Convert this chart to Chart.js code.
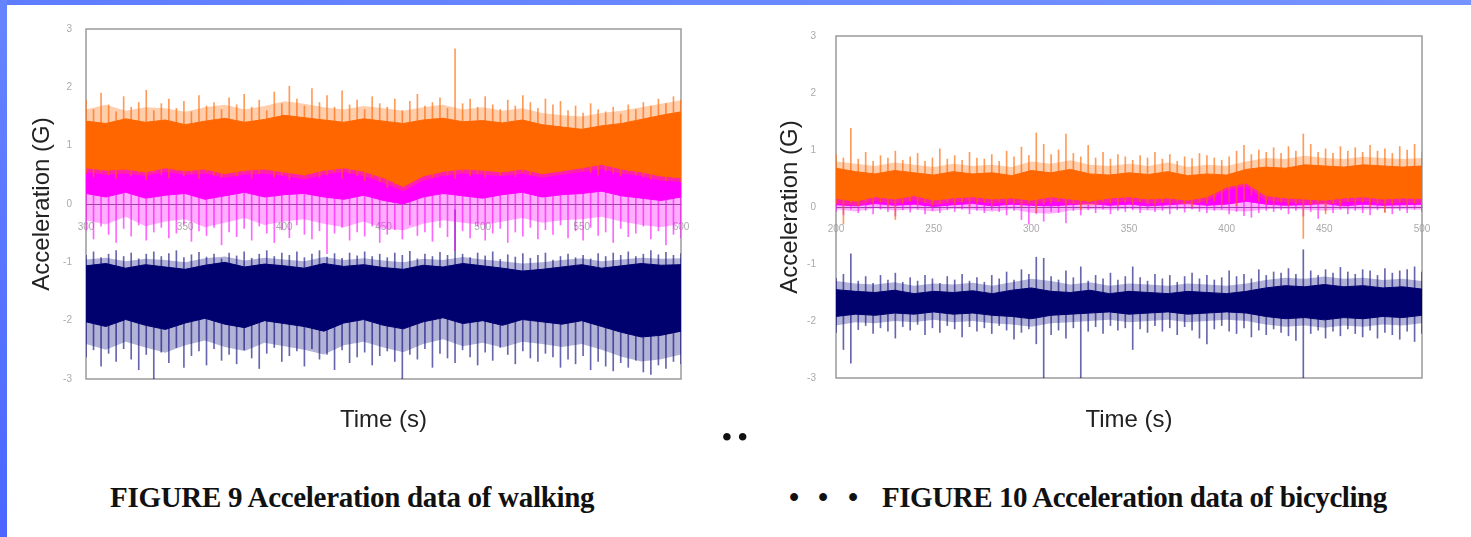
<!DOCTYPE html>
<html>
<head>
<meta charset="utf-8">
<script src="https://cdn.jsdelivr.net/npm/chart.js@4.4.1/dist/chart.umd.min.js"></script>
<style>
  html, body { margin: 0; padding: 0; }
  body { width: 1471px; height: 537px; position: relative; overflow: hidden; background: #fff; }
  .edgeTop { position: absolute; left: 0; top: 0; width: 1471px; height: 5px; background: linear-gradient(90deg, #5f7cff, #7594ff); }
  .edgeLeft { position: absolute; left: 0; top: 0; width: 7px; height: 537px; background: linear-gradient(180deg, #6585ff, #4a66ff); }
  canvas { position: absolute; top: 0; }
  #walk { left: 0; }
  #bike { left: 740px; }
  .cap { position: absolute; top: 481px; font-family: "Liberation Serif", "Times New Roman", serif; font-weight: bold; font-size: 29px; color: #111; white-space: nowrap; letter-spacing: -0.3px; }
  #cap9 { left: 110px; }
  #cap10 { left: 882px; letter-spacing: -0.45px; }
  .b1 { left: 789px; } .b2 { left: 818px; } .b3 { left: 848px; }
  #dots { position: absolute; left: 722px; top: 421px; font-family: "Liberation Serif", serif; font-weight: bold; font-size: 28px; color: #111; letter-spacing: 6px; }
</style>
</head>
<body>
<div class="edgeTop"></div>
<div class="edgeLeft"></div>
<canvas id="walk" width="740" height="460"></canvas>
<canvas id="bike" width="731" height="460"></canvas>
<div id="dots">••</div>
<div class="cap" id="cap9">FIGURE 9 Acceleration data of walking</div>
<div class="cap b1">•</div><div class="cap b2">•</div><div class="cap b3">•</div>
<div class="cap" id="cap10">FIGURE 10 Acceleration data of bicycling</div>
<script>
// ===== FIGURE 9: walking, t = 300..600 s =====
// band edges every 10 s: solid core and lighter fringe
var walkOrangeTop  = [1.42,1.38,1.46,1.40,1.44,1.36,1.42,1.47,1.40,1.45,1.52,1.48,1.44,1.40,1.46,1.42,1.38,1.44,1.47,1.41,1.43,1.39,1.44,1.36,1.32,1.28,1.34,1.38,1.45,1.52,1.58];
var walkOrangeBot  = [0.62,0.58,0.60,0.55,0.62,0.57,0.60,0.52,0.58,0.60,0.55,0.50,0.58,0.62,0.56,0.45,0.30,0.48,0.56,0.60,0.58,0.55,0.60,0.52,0.57,0.62,0.68,0.60,0.55,0.48,0.45];
var walkOrangeHiTop = [1.62,1.70,1.60,1.66,1.64,1.58,1.66,1.70,1.62,1.68,1.76,1.72,1.66,1.62,1.68,1.64,1.60,1.66,1.70,1.62,1.66,1.60,1.64,1.56,1.52,1.50,1.56,1.60,1.66,1.72,1.78];
var walkOrangeHiBot = [0.55,0.50,0.52,0.48,0.55,0.50,0.52,0.45,0.50,0.52,0.48,0.42,0.50,0.55,0.48,0.36,0.22,0.40,0.48,0.52,0.50,0.48,0.52,0.45,0.50,0.55,0.60,0.52,0.48,0.40,0.38];
var walkMagTop  = [0.65,0.62,0.66,0.60,0.64,0.63,0.66,0.60,0.64,0.62,0.65,0.60,0.64,0.66,0.60,0.55,0.40,0.55,0.62,0.65,0.63,0.60,0.64,0.62,0.66,0.68,0.72,0.66,0.62,0.58,0.55];
var walkMagBot  = [0.18,0.12,0.20,0.10,0.15,0.18,0.08,0.14,0.20,0.12,0.16,0.18,0.12,0.08,0.15,0.06,0.00,0.12,0.18,0.14,0.10,0.16,0.20,0.12,0.16,0.18,0.22,0.14,0.10,0.06,0.12];
var walkMagHiBot = [-0.28,-0.35,-0.22,-0.38,-0.30,-0.26,-0.40,-0.32,-0.24,-0.36,-0.30,-0.26,-0.34,-0.40,-0.30,-0.42,-0.45,-0.34,-0.28,-0.32,-0.36,-0.30,-0.24,-0.32,-0.28,-0.26,-0.22,-0.30,-0.36,-0.40,-0.34];
var walkNavyTop = [-1.06,-1.02,-1.10,-1.04,-1.08,-1.12,-1.05,-1.00,-1.08,-1.03,-1.06,-1.10,-1.02,-1.07,-1.04,-1.09,-1.12,-1.05,-1.08,-1.02,-1.06,-1.10,-1.15,-1.12,-1.08,-1.04,-1.10,-1.06,-1.02,-1.05,-1.04];
var walkNavyBot = [-2.02,-2.10,-1.98,-2.08,-2.15,-2.04,-1.96,-2.06,-2.12,-2.00,-2.05,-2.10,-2.18,-2.04,-1.98,-2.08,-2.14,-2.02,-1.95,-2.05,-2.00,-2.08,-1.98,-2.02,-2.06,-2.00,-2.10,-2.20,-2.28,-2.25,-2.18];
var walkNavyHiTop = [-0.95,-0.92,-0.98,-0.94,-0.96,-1.00,-0.93,-0.90,-0.97,-0.92,-0.95,-0.98,-0.91,-0.96,-0.93,-0.97,-1.00,-0.94,-0.96,-0.91,-0.95,-0.98,-1.02,-1.00,-0.96,-0.93,-0.98,-0.95,-0.92,-0.94,-0.93];
var walkNavyHiBot = [-2.40,-2.50,-2.36,-2.46,-2.55,-2.42,-2.34,-2.45,-2.52,-2.38,-2.44,-2.50,-2.58,-2.42,-2.36,-2.46,-2.54,-2.40,-2.32,-2.44,-2.38,-2.46,-2.36,-2.40,-2.45,-2.40,-2.50,-2.62,-2.70,-2.66,-2.58];
// single spikes (max / min), 80 across the span
var walkOrangePeaks = [1.78,1.62,1.90,1.70,1.58,1.84,1.66,1.74,1.95,1.60, 1.72,1.80,1.64,1.76,1.58,1.86,1.68,1.74,1.62,1.82,
  1.70,1.88,1.66,1.78,1.60,1.92,1.72,2.02,1.80,1.68, 1.98,1.74,1.86,1.66,1.94,1.70,1.78,1.62,1.84,1.72,
  1.66,1.80,1.60,1.76,1.88,1.68,1.74,1.82,1.64,2.66, 1.72,1.80,1.66,1.84,1.70,1.62,1.78,1.68,1.86,1.74,
  1.64,1.80,1.70,1.76,1.60,1.68,1.56,1.72,1.62,1.58, 1.66,1.54,1.70,1.62,1.74,1.68,1.80,1.72,1.84,1.78];
var walkOrangeDips = [0.52,0.46,0.56,0.50,0.44,0.58,0.48,0.54,0.42,0.55, 0.50,0.45,0.57,0.48,0.53,0.44,0.56,0.50,0.46,0.54,
  0.48,0.55,0.44,0.52,0.58,0.46,0.50,0.42,0.55,0.48, 0.53,0.45,0.50,0.56,0.44,0.52,0.48,0.40,0.46,0.38,
  0.28,0.34,0.45,0.52,0.48,0.55,0.46,0.53,0.50,0.44, 0.56,0.48,0.52,0.45,0.58,0.50,0.54,0.47,0.55,0.50,
  0.58,0.52,0.60,0.55,0.62,0.66,0.58,0.54,0.50,0.56, 0.52,0.48,0.55,0.50,0.46,0.42,0.48,0.40,0.44,0.38];
var walkMagPeaks = [0.62,0.66,0.60,0.64,0.58,0.66,0.62,0.60,0.65,0.61, 0.63,0.59,0.66,0.60,0.64,0.62,0.58,0.65,0.61,0.63,
  0.60,0.66,0.62,0.58,0.64,0.61,0.65,0.60,0.63,0.55, 0.60,0.64,0.62,0.58,0.65,0.61,0.63,0.60,0.52,0.45,
  0.40,0.50,0.62,0.66,0.62,0.58,0.64,0.61,0.65,0.60, 0.68,0.62,0.64,0.61,0.66,0.60,0.64,0.62,0.66,0.63,
  0.64,0.70,0.72,0.66,0.72,0.74,0.66,0.62,0.60,0.64, 0.62,0.58,0.60,0.56,0.58,0.55,0.58,0.56,0.55,0.58];
var walkMagDips = [-0.45,-0.60,-0.38,-0.52,-0.66,-0.42,-0.55,-0.36,-0.62,-0.48, -0.40,-0.58,-0.50,-0.35,-0.64,-0.46,-0.54,-0.40,-0.70,-0.48,
  -0.56,-0.42,-0.62,-0.38,-0.50,-0.66,-0.44,-0.58,-0.36,-0.52, -0.60,-0.46,-0.85,-0.50,-0.40,-0.62,-0.48,-0.55,-0.38,-0.66,
  -0.52,-0.44,-0.60,-0.36,-0.54,-0.48,-0.64,-0.40,-0.56,-0.80, -0.46,-0.58,-0.38,-0.62,-0.50,-0.42,-0.66,-0.48,-0.55,-0.40,
  -0.60,-0.44,-0.52,-0.36,-0.58,-0.46,-0.62,-0.40,-0.54,-0.48, -0.66,-0.42,-0.56,-0.50,-0.38,-0.60,-0.46,-0.70,-0.52,-0.58];
var walkNavyPeaks = [-0.88,-0.82,-0.92,-0.86,-0.80,-0.90,-0.84,-0.94,-0.86,-0.82, -0.90,-0.85,-0.80,-0.92,-0.87,-0.83,-0.91,-0.86,-0.94,-0.84,
  -0.89,-0.82,-0.93,-0.86,-0.80,-0.90,-0.84,-0.88,-0.82,-0.92, -0.86,-0.80,-0.91,-0.85,-0.93,-0.84,-0.89,-0.82,-0.90,-0.86,
  -0.92,-0.84,-0.88,-0.81,-0.94,-0.86,-0.90,-0.83,-0.88,-0.10, -0.86,-0.92,-0.84,-0.89,-0.82,-0.95,-0.87,-0.91,-0.85,-0.93,
  -0.88,-0.84,-0.96,-0.90,-0.86,-0.92,-0.88,-0.94,-0.85,-0.90, -0.84,-0.88,-0.82,-0.90,-0.86,-0.80,-0.87,-0.83,-0.88,-0.85];
var walkNavyDips = [-2.62,-2.50,-2.78,-2.56,-2.70,-2.48,-2.66,-2.84,-2.58,-3.00, -2.54,-2.72,-2.46,-2.80,-2.60,-2.52,-2.76,-2.48,-2.68,-2.58,
  -2.74,-2.50,-2.64,-2.82,-2.56,-2.46,-2.70,-2.60,-2.52,-2.78, -2.48,-2.66,-2.58,-2.84,-2.50,-2.72,-2.62,-2.54,-2.76,-2.60,
  -2.52,-2.70,-3.00,-2.58,-2.66,-2.48,-2.80,-2.56,-2.64,-2.72, -2.50,-2.62,-2.76,-2.54,-2.68,-2.46,-2.58,-2.74,-2.52,-2.64,
  -2.70,-2.56,-2.62,-2.80,-2.66,-2.74,-2.60,-2.84,-2.70,-2.78, -2.86,-2.72,-2.80,-2.68,-2.88,-2.92,-2.76,-2.82,-2.70,-2.74];

// ===== FIGURE 10: bicycling, t = 200..500 s =====
var bikeOrangeTop  = [0.68,0.62,0.58,0.64,0.60,0.56,0.62,0.58,0.60,0.55,0.64,0.60,0.66,0.58,0.56,0.60,0.57,0.62,0.55,0.58,0.56,0.66,0.70,0.68,0.74,0.72,0.70,0.74,0.72,0.70,0.72];
var bikeOrangeBot  = [0.15,0.10,0.18,0.14,0.20,0.12,0.16,0.18,0.14,0.16,0.12,0.18,0.14,0.10,0.16,0.18,0.14,0.16,0.12,0.18,0.35,0.42,0.20,0.16,0.14,0.12,0.16,0.18,0.14,0.16,0.15];
var bikeOrangeHiTop = [0.80,0.76,0.72,0.78,0.74,0.70,0.76,0.72,0.74,0.70,0.80,0.76,0.82,0.74,0.72,0.76,0.72,0.78,0.70,0.74,0.72,0.80,0.86,0.84,0.90,0.86,0.84,0.88,0.86,0.84,0.86];
var bikeOrangeHiBot = [0.06,0.02,0.10,0.06,0.12,0.04,0.08,0.10,0.06,0.08,0.04,0.10,0.06,0.02,0.08,0.10,0.06,0.08,0.04,0.10,0.30,0.36,0.12,0.08,0.06,0.04,0.08,0.10,0.06,0.08,0.07];
var bikeMagTop  = [0.30,0.32,0.28,0.31,0.30,0.33,0.29,0.31,0.30,0.32,0.30,0.28,0.31,0.33,0.30,0.29,0.31,0.30,0.32,0.30,0.40,0.44,0.32,0.30,0.31,0.29,0.32,0.30,0.31,0.30,0.32];
var bikeMagBot  = [0.04,0.02,0.06,0.03,0.05,0.01,0.04,0.06,0.02,0.05,0.03,0.02,0.04,0.06,0.03,0.05,0.02,0.04,0.06,0.03,0.05,0.10,0.05,0.03,0.04,0.06,0.02,0.05,0.03,0.04,0.05];
var bikeMagHiBot = [-0.04,-0.08,-0.02,-0.06,-0.04,-0.08,-0.03,-0.05,-0.08,-0.04,-0.10,-0.12,-0.06,-0.04,-0.05,-0.03,-0.06,-0.04,-0.03,-0.05,-0.06,-0.08,-0.04,-0.03,-0.05,-0.06,-0.04,-0.05,-0.03,-0.04,-0.05];
var bikeNavyTop = [-1.45,-1.48,-1.50,-1.46,-1.52,-1.48,-1.50,-1.47,-1.52,-1.46,-1.42,-1.48,-1.50,-1.46,-1.52,-1.48,-1.50,-1.52,-1.48,-1.50,-1.52,-1.48,-1.42,-1.38,-1.40,-1.36,-1.40,-1.38,-1.42,-1.40,-1.44];
var bikeNavyBot = [-1.92,-1.88,-1.90,-1.86,-1.88,-1.84,-1.88,-1.86,-1.90,-1.92,-1.96,-1.90,-1.88,-1.86,-1.84,-1.88,-1.86,-1.84,-1.88,-1.86,-1.84,-1.86,-1.92,-1.96,-1.94,-1.98,-1.94,-1.96,-1.92,-1.94,-1.90];
var bikeNavyHiTop = [-1.30,-1.34,-1.36,-1.32,-1.38,-1.34,-1.36,-1.33,-1.38,-1.32,-1.26,-1.30,-1.36,-1.32,-1.38,-1.34,-1.36,-1.38,-1.34,-1.36,-1.38,-1.34,-1.28,-1.24,-1.26,-1.22,-1.26,-1.24,-1.28,-1.26,-1.30];
var bikeNavyHiBot = [-2.08,-2.02,-2.04,-2.00,-2.02,-1.98,-2.02,-2.00,-2.04,-2.06,-2.10,-2.04,-2.02,-2.00,-1.98,-2.02,-2.00,-1.98,-2.02,-2.00,-1.98,-2.00,-2.06,-2.10,-2.08,-2.12,-2.08,-2.10,-2.06,-2.08,-2.04];
var bikeOrangePeaks = [0.92,0.86,1.38,0.84,0.96,0.80,0.90,0.86,0.98,0.82, 0.88,0.94,0.80,0.86,1.02,0.84,0.90,0.82,0.96,0.86,
  0.84,0.92,0.80,0.98,0.88,1.05,0.90,1.30,1.10,0.92, 1.00,1.28,0.94,0.88,1.08,0.86,0.96,0.84,0.92,0.88,
  0.82,0.90,0.86,0.96,0.84,0.92,0.80,0.88,0.85,0.94, 0.90,0.86,0.82,0.88,0.98,1.08,0.92,1.00,0.96,1.04,
  0.94,1.06,0.98,1.28,1.10,0.96,1.02,0.94,1.06,0.98, 1.04,0.96,1.08,0.98,1.02,0.94,1.06,1.00,1.10,0.96];
var bikeOrangeDips = [0.06,-0.30,0.08,0.02,0.10,0.04,0.08,0.00,-0.22,0.06, 0.10,0.04,0.08,0.02,0.06,0.10,0.04,0.08,0.00,0.06,
  0.08,0.02,0.10,0.04,0.06,0.00,0.08,-0.10,0.04,0.06, 0.10,0.02,0.06,-0.05,0.08,0.04,0.10,0.06,0.02,0.08,
  0.04,0.10,0.06,0.02,0.08,0.04,0.10,0.06,0.00,0.08, 0.06,0.10,0.04,0.08,0.02,0.12,0.20,0.10,0.06,0.04,
  0.08,0.02,0.06,-0.55,0.04,0.08,-0.12,0.06,0.02,0.10, 0.04,0.08,0.00,0.06,-0.10,0.04,0.08,0.02,0.06,0.04];
var bikeMagPeaks = [0.34,0.30,0.36,0.32,0.35,0.31,0.33,0.36,0.30,0.34, 0.32,0.35,0.31,0.34,0.30,0.36,0.32,0.33,0.35,0.31,
  0.34,0.30,0.36,0.32,0.35,0.31,0.33,0.36,0.30,0.34, 0.32,0.35,0.31,0.34,0.30,0.36,0.32,0.33,0.35,0.31,
  0.34,0.30,0.36,0.32,0.35,0.31,0.33,0.36,0.30,0.34, 0.32,0.44,0.46,0.42,0.35,0.31,0.33,0.36,0.30,0.34,
  0.32,0.35,0.31,0.34,0.30,0.36,0.32,0.33,0.35,0.31, 0.34,0.30,0.36,0.32,0.35,0.31,0.33,0.36,0.30,0.34];
var bikeMagDips = [-0.08,-0.14,-0.04,-0.10,-0.06,-0.12,-0.04,-0.08,-0.16,-0.05, -0.09,-0.04,-0.12,-0.06,-0.10,-0.05,-0.08,-0.04,-0.12,-0.06,
  -0.10,-0.05,-0.08,-0.14,-0.06,-0.22,-0.30,-0.12,-0.25,-0.08, -0.10,-0.28,-0.06,-0.14,-0.05,-0.10,-0.04,-0.12,-0.06,-0.08,
  -0.05,-0.10,-0.04,-0.08,-0.06,-0.12,-0.05,-0.09,-0.04,-0.08, -0.10,-0.06,-0.04,-0.12,-0.08,-0.15,-0.18,-0.10,-0.06,-0.08,
  -0.05,-0.12,-0.06,-0.16,-0.08,-0.20,-0.06,-0.10,-0.04,-0.12, -0.06,-0.10,-0.14,-0.05,-0.08,-0.12,-0.06,-0.10,-0.04,-0.08];
var bikeNavyPeaks = [-1.25,-1.18,-0.82,-1.30,-1.22,-1.34,-1.20,-1.28,-1.16,-1.32, -1.24,-1.30,-1.20,-1.26,-1.34,-1.22,-1.28,-1.18,-1.30,-1.24,
  -1.32,-1.20,-1.26,-1.14,-1.28,-1.10,-1.18,-0.88,-0.90,-1.22, -1.28,-1.12,-1.24,-1.05,-1.30,-1.20,-1.26,-1.16,-1.28,-1.22,
  -1.05,-1.24,-1.30,-1.18,-1.26,-1.20,-1.32,-1.22,-1.16,-1.26, -1.20,-1.28,-1.24,-1.12,-1.22,-1.18,-1.26,-1.10,-1.20,-1.14,
  -1.16,-1.08,-1.18,-0.75,-1.12,-1.20,-1.10,-1.16,-1.06,-1.14, -1.18,-1.10,-1.12,-1.20,-1.08,-1.16,-1.12,-1.10,-1.05,-1.14];
var bikeNavyDips = [-2.20,-2.50,-2.74,-2.15,-2.08,-2.22,-2.12,-2.18,-2.30,-2.10, -2.16,-2.06,-2.24,-2.12,-2.20,-2.08,-2.14,-2.28,-2.10,-2.18,
  -2.12,-2.22,-2.08,-2.16,-2.32,-2.20,-2.14,-2.40,-3.00,-2.24, -2.16,-2.30,-2.12,-3.00,-2.18,-2.10,-2.22,-2.08,-2.16,-2.12,
  -2.50,-2.14,-2.20,-2.08,-2.18,-2.12,-2.24,-2.10,-2.16,-2.30, -2.40,-2.14,-2.08,-2.18,-2.22,-2.12,-2.28,-2.16,-2.24,-2.14,
  -2.20,-2.26,-2.34,-3.00,-2.22,-2.16,-2.30,-2.18,-2.26,-2.14, -2.22,-2.28,-2.16,-2.30,-2.20,-2.24,-2.32,-2.18,-2.36,-2.22];

var yTicks = [-3, -2, -1, 0, 1, 2, 3];
var COLORS = {
  orange:  {solid: '#ff6600', fringe: 'rgba(255,102,0,0.32)', spike: 'rgba(255,102,0,0.65)'},
  magenta: {solid: '#ff00ff', fringe: 'rgba(255,0,255,0.32)', spike: 'rgba(255,0,255,0.6)'},
  navy:    {solid: '#00006e', fringe: 'rgba(0,0,120,0.3)',   spike: 'rgba(0,0,120,0.6)'}
};

Chart.defaults.font.family = '"Liberation Sans", Arial, sans-serif';
Chart.defaults.animation = false;

function toPoints(t0, t1, ys) {
  return ys.map(function (y, i) { return {x: t0 + i * (t1 - t0) / (ys.length - 1), y: y}; });
}
function toBars(t0, t1, peaks, dips) {
  return peaks.map(function (p, i) { return {x: t0 + i * (t1 - t0) / (peaks.length - 1), y: [dips[i], p]}; });
}
// one signal = light fringe band + spikes + solid core band
function series(t0, t1, s, c, order) {
  var line = {type: 'line', pointRadius: 0, tension: 0, xAxisID: 'x', yAxisID: 'y'};
  return [
    Object.assign({data: toPoints(t0, t1, s.top), borderColor: c.solid, backgroundColor: c.solid, borderWidth: 1, fill: '+1', order: order}, line),
    Object.assign({data: toPoints(t0, t1, s.bot), borderColor: c.solid, borderWidth: 1, fill: false, order: order}, line),
    {type: 'bar', data: toBars(t0, t1, s.peaks, s.dips), backgroundColor: c.spike, borderWidth: 0,
      barThickness: 1, grouped: false, xAxisID: 'x', yAxisID: 'y', order: order + 1},
    Object.assign({data: toPoints(t0, t1, s.hiTop), borderWidth: 0, backgroundColor: c.fringe, fill: '+1', order: order + 2}, line),
    Object.assign({data: toPoints(t0, t1, s.hiBot), borderWidth: 0, fill: false, order: order + 2}, line)
  ];
}

var framePlugin = {
  id: 'frame',
  beforeDatasetsDraw: function (chart) {
    var a = chart.chartArea, ctx = chart.ctx;
    ctx.save();
    ctx.strokeStyle = '#9b9b9b';
    ctx.lineWidth = 1.5;
    ctx.strokeRect(a.left, a.top, a.right - a.left, a.bottom - a.top);
    ctx.restore();
  }
};

function makeChart(id, t0, t1, datasets, g) {
  return new Chart(document.getElementById(id), {
    type: 'line',
    data: {datasets: datasets},
    plugins: [framePlugin],
    options: {
      responsive: false,
      devicePixelRatio: 1,
      layout: {padding: {left: 0, top: g.top, right: g.right, bottom: g.bottom}},
      plugins: {legend: {display: false}, tooltip: {enabled: false}},
      scales: {
        x: {
          type: 'linear', min: t0, max: t1, offset: false, position: {y: 0}, z: 1,
          grid: {display: false, drawTicks: false, offset: false},
          border: {display: true, color: '#6a6a7a', width: 1},
          ticks: {stepSize: 50, color: '#aaaaaa', font: {size: 10}, padding: g.xPad, maxRotation: 0}
        },
        y: {
          type: 'linear', min: -3, max: 3, position: 'left', beginAtZero: false,
          afterBuildTicks: function (s) { s.ticks = yTicks.map(function (v) { return {value: v}; }); },
          afterFit: function (s) { s.width = g.yWidth; },
          grid: {display: false, drawTicks: false},
          border: {display: false},
          ticks: {color: '#aaaaaa', font: {size: 10}, padding: g.yPad},
          title: {display: true, text: 'Acceleration (G)', color: '#222', font: {size: 24}, padding: {top: g.yTitle, bottom: 0}}
        },
        xt: {
          type: 'linear', min: t0, max: t1, position: 'bottom',
          afterFit: function (s) { s.height = 60; },
          grid: {display: false, drawTicks: false},
          border: {display: false},
          ticks: {display: false},
          title: {display: true, text: 'Time (s)', color: '#222', font: {size: 24}, padding: {top: 0, bottom: g.xTitle}}
        }
      }
    }
  });
}

makeChart('walk', 300, 600, [].concat(
    series(300, 600, {top: walkOrangeTop, bot: walkOrangeBot, hiTop: walkOrangeHiTop, hiBot: walkOrangeHiBot, peaks: walkOrangePeaks, dips: walkOrangeDips}, COLORS.orange, 1),
    series(300, 600, {top: walkMagTop, bot: walkMagBot, hiTop: walkMagTop, hiBot: walkMagHiBot, peaks: walkMagPeaks, dips: walkMagDips}, COLORS.magenta, 4),
    series(300, 600, {top: walkNavyTop, bot: walkNavyBot, hiTop: walkNavyHiTop, hiBot: walkNavyHiBot, peaks: walkNavyPeaks, dips: walkNavyDips}, COLORS.navy, 7)
  ),
  {top: 29, right: 59, bottom: 21, yWidth: 86, yPad: 14, yTitle: 27.6, xPad: 17, xTitle: 4.6});

makeChart('bike', 200, 500, [].concat(
    series(200, 500, {top: bikeOrangeTop, bot: bikeOrangeBot, hiTop: bikeOrangeHiTop, hiBot: bikeOrangeHiBot, peaks: bikeOrangePeaks, dips: bikeOrangeDips}, COLORS.orange, 1),
    series(200, 500, {top: bikeMagTop, bot: bikeMagBot, hiTop: bikeMagTop, hiBot: bikeMagHiBot, peaks: bikeMagPeaks, dips: bikeMagDips}, COLORS.magenta, 4),
    series(200, 500, {top: bikeNavyTop, bot: bikeNavyBot, hiTop: bikeNavyHiTop, hiBot: bikeNavyHiBot, peaks: bikeNavyPeaks, dips: bikeNavyDips}, COLORS.navy, 7)
  ),
  {top: 36, right: 49, bottom: 22, yWidth: 96, yPad: 20, yTitle: 35.6, xPad: 16, xTitle: 3.6});
</script>
</body>
</html>
